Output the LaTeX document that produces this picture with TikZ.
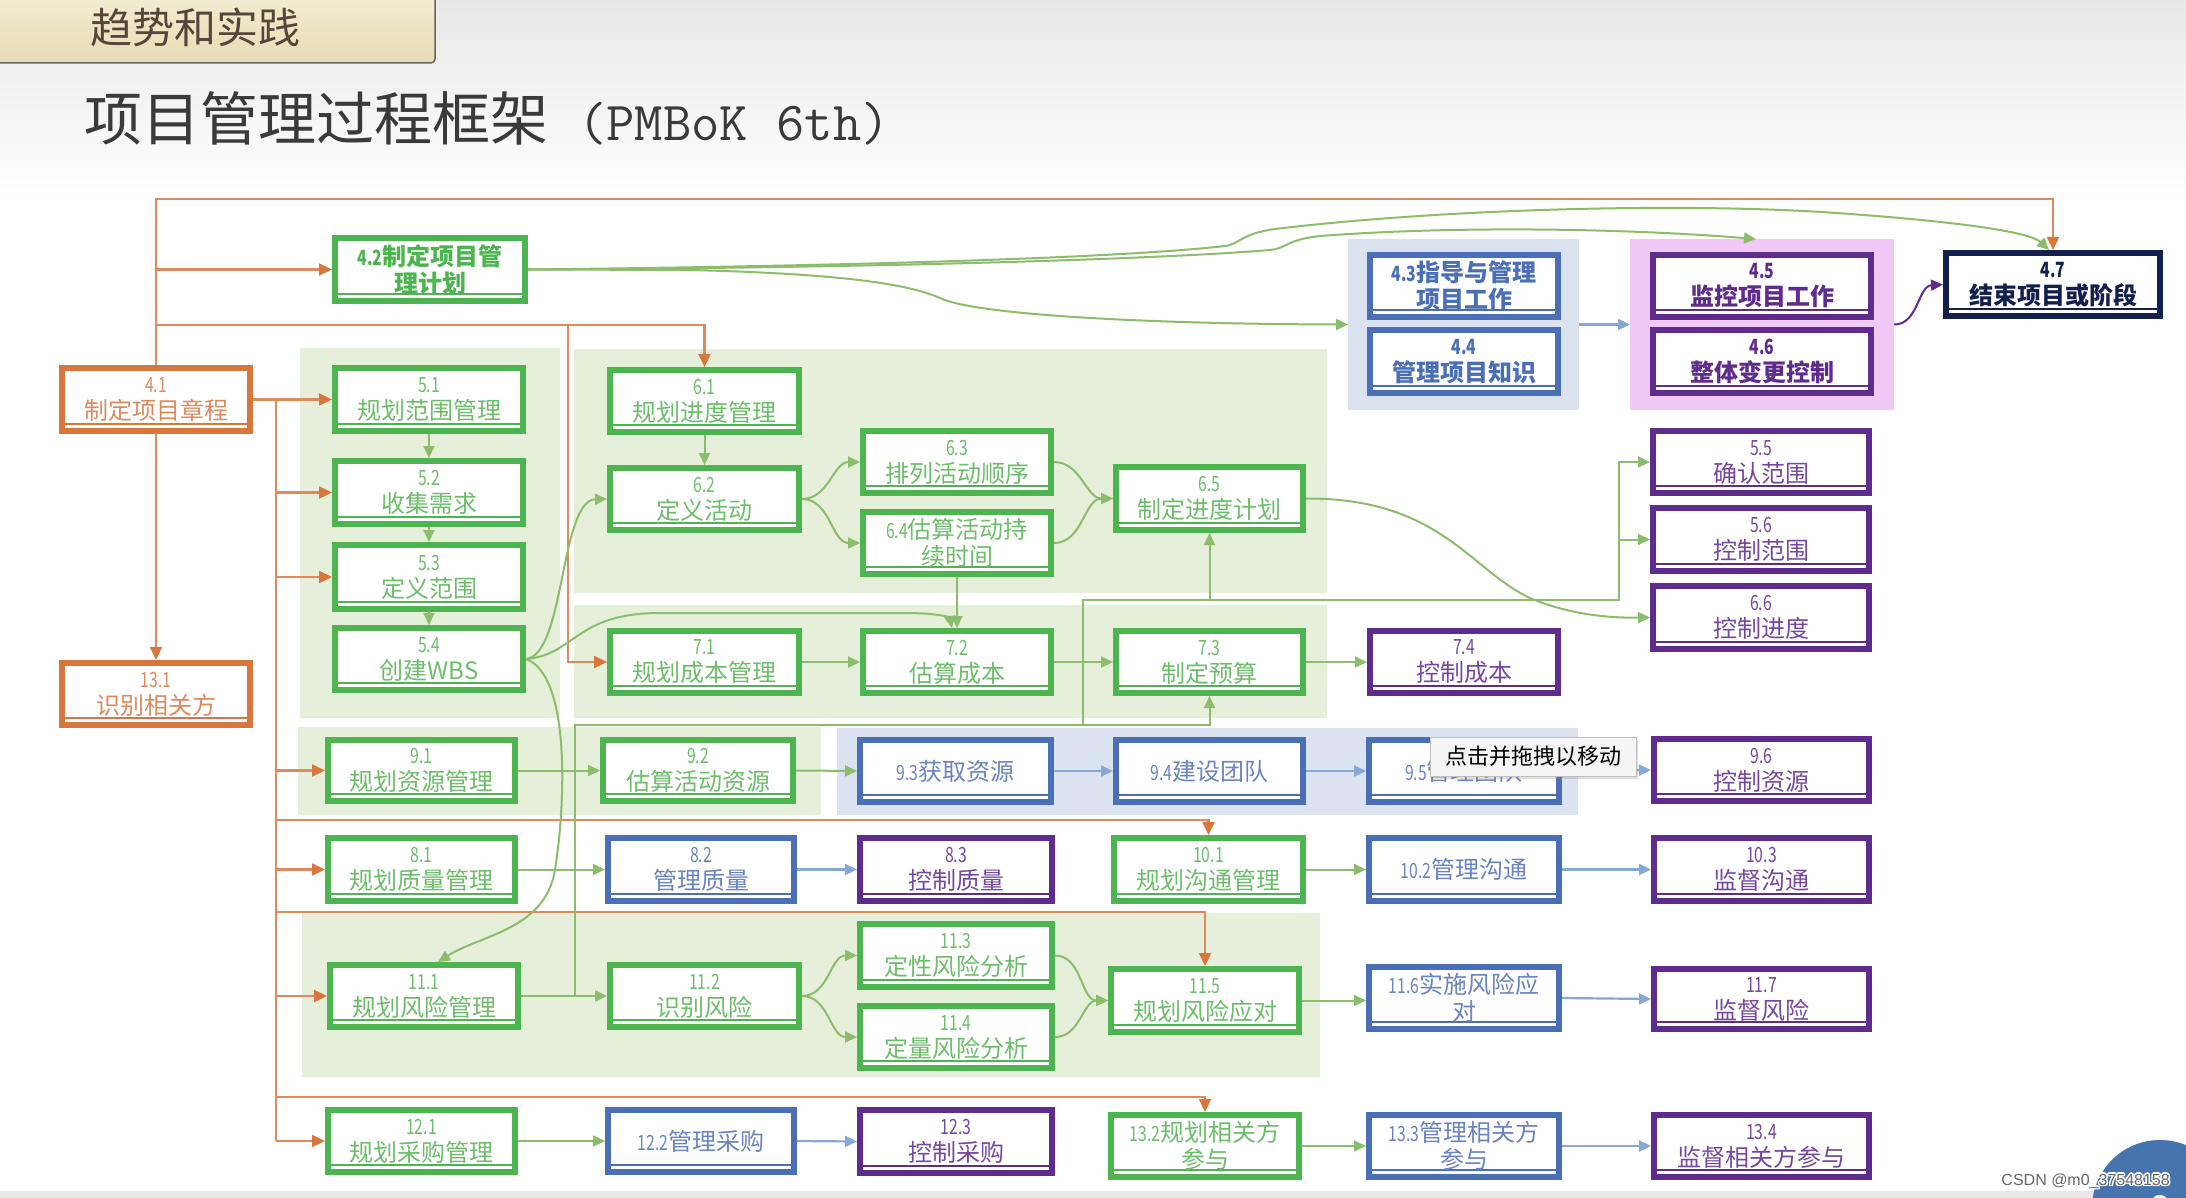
\documentclass[tikz,border=0pt]{standalone}
\usepackage{fontspec}
\setmainfont{Noto Sans CJK SC}
\newfontfamily\numf[FakeStretch=0.75]{Noto Sans CJK SC}
\newfontfamily\wmf{Liberation Sans}
\usetikzlibrary{arrows.meta,shadows}
\definecolor{cG}{HTML}{4DB54F}
\definecolor{cGt}{HTML}{6CBE6A}
\definecolor{cGl}{HTML}{8CBD6C}
\definecolor{cGf}{HTML}{E5EFDA}
\definecolor{cB}{HTML}{4A6FB7}
\definecolor{cBt}{HTML}{6A84BF}
\definecolor{cBl}{HTML}{86A8D4}
\definecolor{cBf}{HTML}{DCE3F0}
\definecolor{cP}{HTML}{5F2B8D}
\definecolor{cPt}{HTML}{7548A0}
\definecolor{cPk}{HTML}{F1C8F6}
\definecolor{cO}{HTML}{D8773B}
\definecolor{cOt}{HTML}{DB8B5E}
\definecolor{cOl}{HTML}{E0895A}
\definecolor{cN}{HTML}{13204E}
\definecolor{cT}{HTML}{3A3A3A}
\definecolor{tabA}{HTML}{F4EDD4}
\definecolor{tabB}{HTML}{E7DCB4}
\definecolor{tabT}{HTML}{56463A}
\definecolor{cCirc}{HTML}{4674AC}
\newcommand\nm[1]{{\numf\fontsize{21}{27}\selectfont #1}}
\newcommand\mybox[7]{%
  \pgfmathsetmacro\myw{#5-#3-6}%
  \pgfmathsetmacro\myh{#6-#4-6}%
  \node[#1,minimum width=\myw pt,minimum height=\myh pt] (#2) at ({(#3+#5)/2},{(#4+#6)/2}) {#7};}
\tikzset{
  bx/.style={draw=#1, line width=6pt, fill=white, inner sep=0pt, align=center,
    font=\fontsize{24}{27}\selectfont,
    path picture={\draw[#1, line width=1.5pt] ([yshift=7pt]path picture bounding box.south west) -- ([yshift=7pt]path picture bounding box.south east);}},
  bG/.style={bx=cG, text=cGt},
  bB/.style={bx=cB, text=cBt},
  bP/.style={bx=cP, text=cPt},
  bO/.style={bx=cO, text=cOt},
  bGb/.style={bx=cG, text=cG, font=\fontsize{24}{27}\selectfont\bfseries},
  bBb/.style={bx=cB, text=cB, font=\fontsize{24}{27}\selectfont\bfseries},
  bPb/.style={bx=cP, text=cP, font=\fontsize{24}{27}\selectfont\bfseries},
  bNb/.style={bx=cN, text=cN, font=\fontsize{24}{27}\selectfont\bfseries},
  band/.style={inner sep=0pt, outer sep=0pt, draw=none},
  gl/.style={draw=cGl, line width=2pt},
  gc/.style={gl, -{Triangle[length=12pt,width=11pt]}},
  bc/.style={draw=cBl, line width=2.2pt, -{Triangle[length=12pt,width=11pt]}},
  pc/.style={draw=cP, line width=2pt, -{Triangle[length=12pt,width=11pt]}},
  oc/.style={draw=cOl, line width=2.2pt},
  oa/.style={oc, -{Triangle[length=13pt,width=12pt,color=cO]}},
  wmark/.style={anchor=east, font=\wmf\fontsize{16}{18}\selectfont, inner sep=0pt},
}
\begin{document}
\begin{tikzpicture}[x=1pt,y=-1pt]
\useasboundingbox (0,0) rectangle (2186,1198);
\fill[white] (0,0) rectangle (2186,1198);
\shade[top color=black!9, bottom color=white] (0,0) rectangle (2186,200);
% tab and title
\shadedraw[top color=tabA, bottom color=tabB, draw=black!60, line width=1.5pt, rounded corners=4pt] (-10,-10) rectangle (435,63);
\node[anchor=west, inner sep=0pt, font=\fontsize{42}{44}\selectfont, text=tabT] (tabtext) at (90,27) {趋势和实践};
\node[anchor=west, inner sep=0pt, font=\fontsize{58}{60}\selectfont, text=cT] (title) at (84,118) {项目管理过程框架\hspace{30pt}{\ttfamily\fontsize{55}{60}\selectfont(PMBoK 6th)}};
% background regions
\fill[cGf] (300,348) rectangle (560,718);
\fill[cGf] (574,349) rectangle (1327,593);
\fill[cGf] (574,605) rectangle (1327,718);
\fill[cGf] (298,727) rectangle (821,815);
\fill[cBf] (837,728) rectangle (1578,815);
\fill[cGf] (302,913) rectangle (1320,1077);
\node[band, fill=cBf, minimum width=231pt, minimum height=171pt] (b434) at (1463.5,324.5) {};
\node[band, fill=cPk, minimum width=264pt, minimum height=171pt] (bpink) at (1762,324.5) {};
% boxes
\mybox{bO}{n41}{59}{365}{253}{434}{\nm{4.1}\\制定项目章程}
\mybox{bO}{n131}{59}{660}{253}{728}{\nm{13.1}\\识别相关方}
\mybox{bGb}{n42}{332}{235}{528}{304}{\nm{4.2}制定项目管\\理计划}
\mybox{bG}{n51}{332}{365}{526}{434}{\nm{5.1}\\规划范围管理}
\mybox{bG}{n52}{332}{458}{526}{527}{\nm{5.2}\\收集需求}
\mybox{bG}{n53}{332}{542}{526}{612}{\nm{5.3}\\定义范围}
\mybox{bG}{n54}{332}{625}{526}{693}{\nm{5.4}\\创建WBS}
\mybox{bG}{n61}{607}{367}{802}{435}{\nm{6.1}\\规划进度管理}
\mybox{bG}{n62}{607}{465}{802}{533}{\nm{6.2}\\定义活动}
\mybox{bG}{n63}{860}{428}{1054}{496}{\nm{6.3}\\排列活动顺序}
\mybox{bG}{n64}{860}{509}{1054}{577}{\nm{6.4}估算活动持\\续时间}
\mybox{bG}{n65}{1113}{464}{1306}{533}{\nm{6.5}\\制定进度计划}
\mybox{bG}{n71}{607}{628}{802}{696}{\nm{7.1}\\规划成本管理}
\mybox{bG}{n72}{860}{628}{1054}{696}{\nm{7.2}\\估算成本}
\mybox{bG}{n73}{1113}{628}{1306}{696}{\nm{7.3}\\制定预算}
\mybox{bP}{n74}{1367}{628}{1561}{696}{\nm{7.4}\\控制成本}
\mybox{bG}{n91}{325}{737}{518}{804}{\nm{9.1}\\规划资源管理}
\mybox{bG}{n92}{600}{737}{796}{804}{\nm{9.2}\\估算活动资源}
\mybox{bB}{n93}{857}{737}{1054}{805}{\nm{9.3}获取资源}
\mybox{bB}{n94}{1113}{737}{1306}{805}{\nm{9.4}建设团队}
\mybox{bB}{n95}{1366}{737}{1562}{805}{\nm{9.5}管理团队}
\mybox{bP}{n96}{1651}{736}{1872}{804}{\nm{9.6}\\控制资源}
\mybox{bG}{n81}{325}{835}{518}{904}{\nm{8.1}\\规划质量管理}
\mybox{bB}{n82}{605}{835}{797}{904}{\nm{8.2}\\管理质量}
\mybox{bP}{n83}{857}{835}{1055}{904}{\nm{8.3}\\控制质量}
\mybox{bG}{n101}{1111}{835}{1306}{904}{\nm{10.1}\\规划沟通管理}
\mybox{bB}{n102}{1366}{835}{1562}{904}{\nm{10.2}管理沟通}
\mybox{bP}{n103}{1651}{835}{1872}{904}{\nm{10.3}\\监督沟通}
\mybox{bG}{n111}{327}{962}{521}{1030}{\nm{11.1}\\规划风险管理}
\mybox{bG}{n112}{607}{962}{802}{1030}{\nm{11.2}\\识别风险}
\mybox{bG}{n113}{857}{921}{1055}{990}{\nm{11.3}\\定性风险分析}
\mybox{bG}{n114}{857}{1003}{1055}{1071}{\nm{11.4}\\定量风险分析}
\mybox{bG}{n115}{1108}{966}{1302}{1035}{\nm{11.5}\\规划风险应对}
\mybox{bB}{n116}{1366}{964}{1562}{1032}{\nm{11.6}实施风险应\\对}
\mybox{bP}{n117}{1651}{966}{1872}{1032}{\nm{11.7}\\监督风险}
\mybox{bG}{n121}{325}{1107}{518}{1175}{\nm{12.1}\\规划采购管理}
\mybox{bB}{n122}{605}{1107}{797}{1175}{\nm{12.2}管理采购}
\mybox{bP}{n123}{857}{1107}{1055}{1176}{\nm{12.3}\\控制采购}
\mybox{bG}{n132}{1108}{1112}{1302}{1180}{\nm{13.2}规划相关方\\参与}
\mybox{bB}{n133}{1366}{1112}{1562}{1180}{\nm{13.3}管理相关方\\参与}
\mybox{bP}{n134}{1651}{1112}{1872}{1180}{\nm{13.4}\\监督相关方参与}
\mybox{bBb}{n43}{1367}{252}{1561}{320}{\nm{4.3}指导与管理\\项目工作}
\mybox{bBb}{n44}{1367}{327}{1561}{396}{\nm{4.4}\\管理项目知识}
\mybox{bPb}{n45}{1650}{252}{1874}{320}{\nm{4.5}\\监控项目工作}
\mybox{bPb}{n46}{1650}{327}{1874}{396}{\nm{4.6}\\整体变更控制}
\mybox{bNb}{n47}{1943}{250}{2163}{319}{\nm{4.7}\\结束项目或阶段}
\mybox{bP}{n55}{1650}{428}{1872}{496}{\nm{5.5}\\确认范围}
\mybox{bP}{n56}{1650}{505}{1872}{574}{\nm{5.6}\\控制范围}
\mybox{bP}{n66}{1650}{583}{1872}{652}{\nm{6.6}\\控制进度}
% ---------- connectors ----------
% orange
\draw[oa] (n41.north) |- (n47.north |- 0,199) -- (n47.north);
\draw[oa] (n42.west -| 156,0) -- (n42.west);
\draw[oa] (156,325) -| (n61.north);
\draw[oa] (568,325) |- (n71.west);
\draw[oa] (n41) -- (n131);
\draw[oa] (n41) -- (n51);
\draw[oc] (276,399.5) -- (276,1141);
\foreach \nn in {n52,n53,n91,n81,n111,n121}{\draw[oa] (\nn.west -| 276,0) -- (\nn.west);}
\draw[oa] (276,820) -| (n101.north);
\draw[oa] (276,912) -| (n115.north);
\draw[oa] (276,1097) -| (n132.north);
% green scope/schedule/cost
\draw[gc] (n51) -- (n52);
\draw[gc] (n52) -- (n53);
\draw[gc] (n53) -- (n54);
\draw[gc] (n61) -- (n62);
\draw[gc] (n62.east) to[out=0,in=180] (n63.west);
\draw[gc] (n62.east) to[out=0,in=180] (n64.west);
\draw[gc] (n63.east) to[out=0,in=180] (n65.west);
\draw[gc] (n64.east) to[out=0,in=180] (n65.west);
\draw[gc] (n64) -- (n72);
\draw[gc] (n54.east) .. controls (565,655) and (560,500) .. (n62.west);
\draw[gc] (n54.east) .. controls (575,655) and (575,613) .. (660,613) -- (905,613) .. controls (940,613) and (950,618) .. ([xshift=-5pt]n72.north);
\draw[gc] (n54.east) .. controls (570,675) and (566,800) .. (555,870) .. controls (545,930) and (480,935) .. ([xshift=14pt]n111.north);
\draw[gc] (n71.east) -- (n72.west);
\draw[gc] (n72.east) -- (n73.west);
\draw[gc] (n73.east) -- (n74.west);
\draw[gc] (n65.east) .. controls (1440,498) and (1470,570) .. (1530,598) .. controls (1570,615) and (1610,618) .. (n66.west);
% resources
\draw[gc] (n91.east) -- (n92.west);
\draw[gc] (n92.east) -- (n93.west);
\draw[bc] (n93.east) -- (n94.west);
\draw[bc] (n94.east) -- (n95.west);
\draw[bc] (n95.east) -- (n96.west);
% quality, communications
\draw[gc] (n81.east) -- (n82.west);
\draw[bc] (n82.east) -- (n83.west);
\draw[gc] (n101.east) -- (n102.west);
\draw[bc] (n102.east) -- (n103.west);
% risk
\draw[gc] (n111.east) -- (n112.west);
\draw[gc] (n112.east) to[out=0,in=180] (n113.west);
\draw[gc] (n112.east) to[out=0,in=180] (n114.west);
\draw[gc] (n113.east) to[out=0,in=180] (n115.west);
\draw[gc] (n114.east) to[out=0,in=180] (n115.west);
\draw[gc] (n115.east) -- (n115.east -| n116.west);
\draw[bc] (n116.east) -- (n117.west);
\coordinate (r0) at (575,996);
\coordinate (r1) at (1083,725);
\coordinate (r2) at (1619,540);
\draw[gl] (r0) -- (575,725) -- (r1);
\draw[gc] (r1) -- (n73.south |- r1) -- (n73.south);
\draw[gl] (r1) -- (1083,600) -- (1619,600) -- (r2);
\draw[gc] (r2) |- (n55.west);
\draw[gc] (n56.west -| r2) -- (n56.west);
\draw[gc] (n65.south |- 0,600) -- (n65.south);
% procurement, stakeholders
\draw[gc] (n121.east) -- (n122.west);
\draw[bc] (n122.east) -- (n123.west);
\draw[gc] (n132.east) -- (n133.west);
\draw[bc] (n133.east) -- (n134.west);
% integration
\draw[bc] (b434.east) -- (bpink.west);
\draw[pc] (bpink.east) .. controls (1918,325) and (1918,286) .. (n47.west);
\draw[gc] (n42.east) -- (690,270) .. controls (850,274) and (910,285) .. (940,298) .. controls (975,315) and (1150,324) .. (b434.west);
\draw[gc] (n42.east) .. controls (850,268) and (1150,260) .. (1270,250) .. controls (1288,248) and (1285,240) .. (1320,236) .. controls (1450,226) and (1620,228) .. ([xshift=-6pt]bpink.north);
\draw[gc] (n42.east) .. controls (850,266) and (1120,258) .. (1225,246) .. controls (1240,244) and (1240,234) .. (1275,229) .. controls (1450,208) and (1700,202) .. (1850,214) .. controls (1960,222) and (2030,232) .. ([xshift=-4pt]n47.north);
% tooltip
\node[draw=black!25, fill=black!4, line width=1pt, drop shadow={opacity=0.25, shadow xshift=2pt, shadow yshift=-3pt}, minimum width=206pt, minimum height=39pt, inner sep=0pt, font=\fontsize{22}{24}\selectfont, text=black] (tip) at (1533,756.5) {点击并拖拽以移动};
% footer
\fill[black!9] (0,1191) rectangle (2186,1198);
\fill[cCirc] (2160,1208) circle[radius=68pt];
\node[font=\wmf\fontsize{30}{32}\selectfont\bfseries, text=white, inner sep=0pt] (pg) at (2160,1206) {8};
\foreach \dx/\dy in {-1.5/0,1.5/0,0/-1.5,0/1.5,1.2/1.2,-1.2/-1.2,1.2/-1.2,-1.2/1.2}{
  \node[wmark, text=white] at (2170+\dx,1181+\dy) {CSDN @m0\_37548158};}
\node[wmark, text=black!60] (wm) at (2170,1181) {CSDN @m0\_37548158};
\end{tikzpicture}
\end{document}
